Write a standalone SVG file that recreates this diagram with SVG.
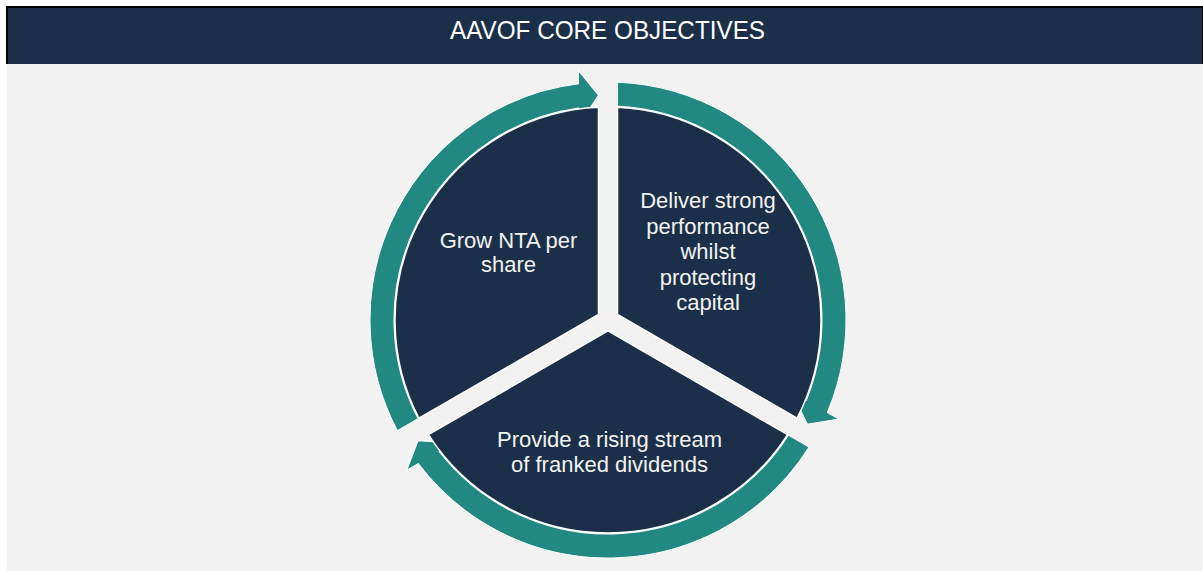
<svg xmlns="http://www.w3.org/2000/svg" xmlns:xlink="http://www.w3.org/1999/xlink" width="1203" height="571" viewBox="0 0 1203 571">
  <style>
    .sector { fill: #1b3048; stroke: #ffffff; stroke-width: 1.5; }
    .arrow { fill: #218982; stroke: #ffffff; stroke-width: 1; stroke-linejoin: miter; }
    .label { font-family: "Liberation Sans", Arial, sans-serif; font-size: 22px; fill: #f2f2f2; text-anchor: middle; }
    .title { font-family: "Liberation Sans", Arial, sans-serif; font-size: 25.5px; fill: #ffffff; text-anchor: middle; }
  </style>
  <defs>
    <!-- one third of the disc, centred on the origin, spanning top to lower-right -->
    <path id="sectorShape" d="M 9.5,-5.48 L 9.5,-212.79 A 213 213 0 0 1 189.03,98.17 Z"/>
    <!-- curved arrow running clockwise along the ring from the top gap to the lower-right gap -->
    <path id="arrowShape" d="M 9.5,-237.81 A 238 238 0 0 1 219.30,92.55 L 230.64,99.10 L 199.43,104.17 L 183.45,71.85 L 198.34,80.45 A 214 214 0 0 0 9.5,-213.79 Z"/>
  </defs>

  <!-- page -->
  <rect x="0" y="0" width="1203" height="571" fill="#ffffff"/>
  <rect x="7" y="64" width="1196" height="507" fill="#f2f2f2"/>

  <!-- title bar -->
  <g id="header">
    <rect x="6" y="6" width="1197" height="58" fill="#000000"/>
    <rect x="8" y="8" width="1194" height="56" fill="#1b3048"/>
    <text class="title" x="607.5" y="39.3" textLength="315" lengthAdjust="spacingAndGlyphs">AAVOF CORE OBJECTIVES</text>
  </g>

  <!-- cycle arrows around the disc -->
  <g id="connectors" transform="translate(608,320)">
    <use xlink:href="#arrowShape" class="arrow"/>
    <use xlink:href="#arrowShape" class="arrow" transform="rotate(120)"/>
    <use xlink:href="#arrowShape" class="arrow" transform="rotate(240)"/>
  </g>

  <g id="node-grow-nta">
    <use xlink:href="#sectorShape" class="sector" transform="translate(608,320) rotate(240)"/>
    <text class="label" x="508.5" y="247.5">Grow NTA per</text>
    <text class="label" x="508.5" y="272">share</text>
  </g>

  <g id="node-deliver-performance">
    <use xlink:href="#sectorShape" class="sector" transform="translate(608,320)"/>
    <text class="label" x="708" y="208">Deliver strong</text>
    <text class="label" x="708" y="233.5">performance</text>
    <text class="label" x="708" y="259">whilst</text>
    <text class="label" x="708" y="284.5">protecting</text>
    <text class="label" x="708" y="310">capital</text>
  </g>

  <g id="node-rising-dividends">
    <use xlink:href="#sectorShape" class="sector" transform="translate(608,320) rotate(120)"/>
    <text class="label" x="609.5" y="446.7">Provide a rising stream</text>
    <text class="label" x="609.5" y="471.7">of franked dividends</text>
  </g>
</svg>
